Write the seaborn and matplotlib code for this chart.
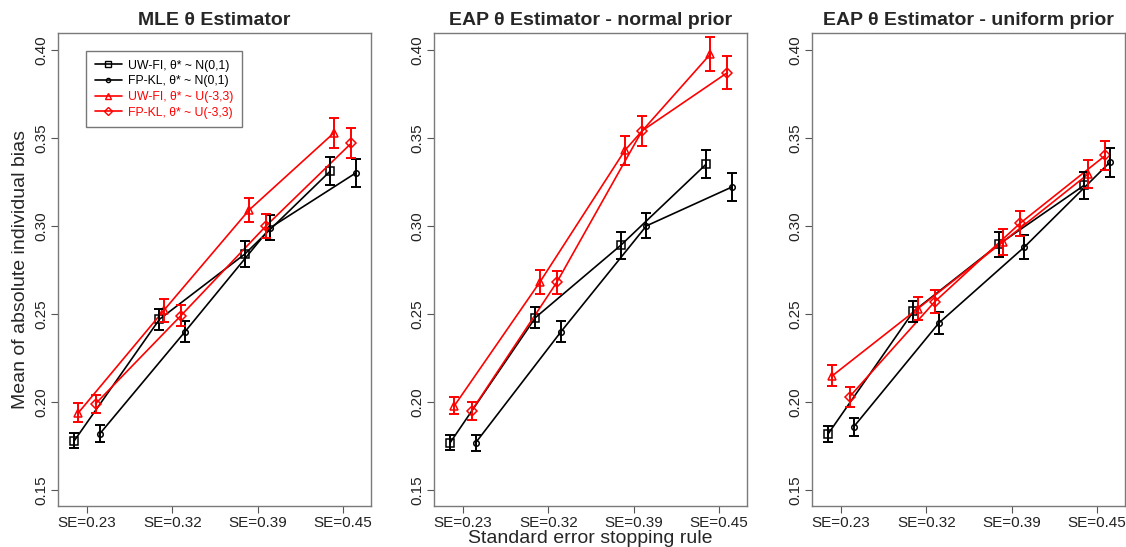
import matplotlib
matplotlib.use("Agg")
import matplotlib.pyplot as plt
import seaborn as sns
import pandas as pd
import numpy as np
from matplotlib.lines import Line2D

# ---------------- data ----------------
categories = ["SE=0.23", "SE=0.32", "SE=0.39", "SE=0.45"]
series_names = ["UW-FI, θ* ~ N(0,1)", "FP-KL, θ* ~ N(0,1)",
                "UW-FI, θ* ~ U(-3,3)", "FP-KL, θ* ~ U(-3,3)"]
panel_titles = ["MLE θ Estimator", "EAP θ Estimator - normal prior",
                "EAP θ Estimator - uniform prior"]

# MLE
mle_uwfi_n = [0.178, 0.247, 0.284, 0.331]
mle_fpkl_n = [0.182, 0.240, 0.299, 0.330]
mle_uwfi_u = [0.194, 0.252, 0.309, 0.353]
mle_fpkl_u = [0.199, 0.249, 0.300, 0.347]
mle_err_uwfi_n = [0.0042, 0.0060, 0.0072, 0.0080]
mle_err_fpkl_n = [0.0047, 0.0060, 0.0072, 0.0082]
mle_err_uwfi_u = [0.0052, 0.0065, 0.0070, 0.0085]
mle_err_fpkl_u = [0.0050, 0.0060, 0.0070, 0.0085]

# EAP normal prior
eapn_uwfi_n = [0.177, 0.248, 0.289, 0.335]
eapn_fpkl_n = [0.177, 0.240, 0.300, 0.322]
eapn_uwfi_u = [0.198, 0.268, 0.343, 0.3975]
eapn_fpkl_u = [0.195, 0.268, 0.354, 0.387]
eapn_err_uwfi_n = [0.0044, 0.0060, 0.0078, 0.0079]
eapn_err_fpkl_n = [0.0045, 0.0059, 0.0071, 0.0078]
eapn_err_uwfi_u = [0.0050, 0.0067, 0.0083, 0.0095]
eapn_err_fpkl_u = [0.0050, 0.0065, 0.0086, 0.0093]

# EAP uniform prior
eapu_uwfi_n = [0.182, 0.2515, 0.2895, 0.323]
eapu_fpkl_n = [0.186, 0.245, 0.288, 0.336]
eapu_uwfi_u = [0.215, 0.253, 0.291, 0.3295]
eapu_fpkl_u = [0.203, 0.257, 0.3015, 0.340]
eapu_err_uwfi_n = [0.0045, 0.0059, 0.0071, 0.0078]
eapu_err_fpkl_n = [0.0050, 0.0062, 0.0068, 0.0080]
eapu_err_uwfi_u = [0.0059, 0.0065, 0.0075, 0.0080]
eapu_err_fpkl_u = [0.0057, 0.0067, 0.0071, 0.0083]

panels = [
    ([mle_uwfi_n, mle_fpkl_n, mle_uwfi_u, mle_fpkl_u],
     [mle_err_uwfi_n, mle_err_fpkl_n, mle_err_uwfi_u, mle_err_fpkl_u]),
    ([eapn_uwfi_n, eapn_fpkl_n, eapn_uwfi_u, eapn_fpkl_u],
     [eapn_err_uwfi_n, eapn_err_fpkl_n, eapn_err_uwfi_u, eapn_err_fpkl_u]),
    ([eapu_uwfi_n, eapu_fpkl_n, eapu_uwfi_u, eapu_fpkl_u],
     [eapu_err_uwfi_n, eapu_err_fpkl_n, eapu_err_uwfi_u, eapu_err_fpkl_u]),
]

# ---------------- style ----------------
sns.set_theme(style="white")
plt.rcParams['font.family'] = ['Liberation Sans', 'DejaVu Sans']

offsets = [-0.15, 0.15, -0.10, 0.10]
colors = ["black", "black", "red", "red"]
markers = ["s", "o", "^", "D"]
msizes = [5.5, 4.0, 6.0, 5.0]

fig = plt.figure(figsize=(11.26, 5.47), dpi=100)
lefts = [58 / 1126, 434 / 1126, 812 / 1126]
width = 313 / 1126
bottom = 1 - 506 / 547
height = (506 - 33) / 547

for p, (vals, errs) in enumerate(panels):
    ax = fig.add_axes([lefts[p], bottom, width, height])
    rows = []
    for s, name in enumerate(series_names):
        for c in range(len(categories)):
            rows.append({"series": name, "pos": c + 1 + offsets[s],
                         "value": vals[s][c], "err": errs[s][c]})
    df = pd.DataFrame(rows)

    for s, name in enumerate(series_names):
        sub = df[df["series"] == name]
        sns.lineplot(data=sub, x="pos", y="value", color=colors[s],
                     marker=markers[s], markersize=msizes[s],
                     markerfacecolor="none", markeredgecolor=colors[s],
                     markeredgewidth=1.1, linewidth=1.2, ax=ax,
                     legend=False, errorbar=None, sort=False)
        ax.errorbar(sub["pos"], sub["value"], yerr=sub["err"], fmt="none",
                    ecolor=colors[s], elinewidth=1.4, capsize=3.5,
                    capthick=1.4, zorder=3)

    ax.set_xlim(0.66, 4.33)
    ax.set_ylim(0.141, 0.4095)
    ax.set_xticks(range(1, 5))
    ax.set_xticklabels(categories, fontsize=11)
    ax.set_yticks([0.15, 0.20, 0.25, 0.30, 0.35, 0.40])
    ax.set_yticklabels(["0.15", "0.20", "0.25", "0.30", "0.35", "0.40"],
                       rotation=90, va="center", fontsize=11)
    ax.tick_params(axis="both", which="both", direction="out", length=5,
                   width=0.8, color="#555555", pad=2, bottom=True, left=True,
                   labelcolor="#222222")
    for sp in ax.spines.values():
        sp.set_color("#7a7a7a")
        sp.set_linewidth(1.0)
    ax.set_xlabel("")
    ax.set_ylabel("")
    ax.set_title(panel_titles[p], fontsize=14, fontweight="bold", pad=6)

    if p == 0:
        ax.set_ylabel("Mean of absolute individual bias", fontsize=14,
                      labelpad=4)
        handles = [Line2D([0], [0], color=colors[s], marker=markers[s],
                          markersize=msizes[s] - 1, markerfacecolor="none",
                          markeredgecolor=colors[s], linewidth=1.2)
                   for s in range(4)]
        leg = ax.legend(handles, series_names, loc="upper left",
                        bbox_to_anchor=(0.09, 0.962), borderaxespad=0,
                        fontsize=8.8, frameon=True, fancybox=False,
                        handlelength=2.2, handletextpad=0.5, borderpad=0.7,
                        labelspacing=0.3, labelcolor=colors)
        leg.get_frame().set_edgecolor("#555555")
        leg.get_frame().set_linewidth(1.0)
    if p == 1:
        ax.set_xlabel("Standard error stopping rule", fontsize=14, labelpad=0)

fig.savefig("out.png", dpi=100, facecolor="white")
